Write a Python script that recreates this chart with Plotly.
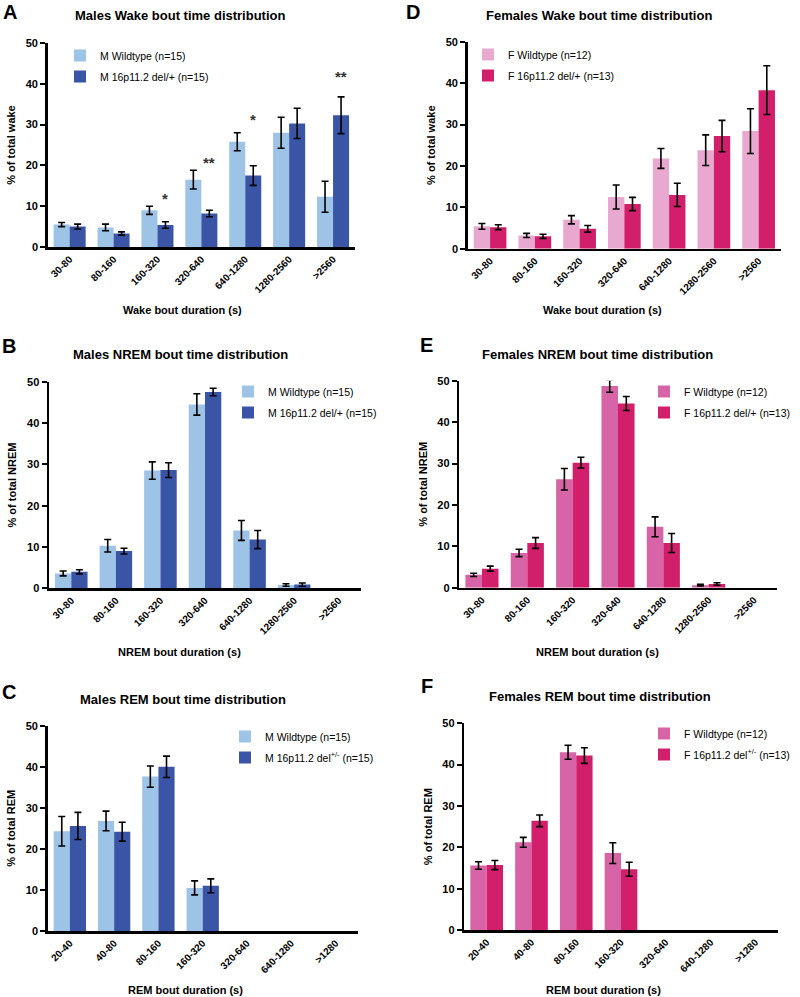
import plotly.graph_objects as go

W, H = 800, 997

# ---------------- data ----------------
cats_long = ["30-80", "80-160", "160-320", "320-640", "640-1280", "1280-2560", ">2560"]
cats_rem = ["20-40", "40-80", "80-160", "160-320", "320-640", "640-1280", ">1280"]

# A: Males wake
a_wt = [5.5, 4.8, 9.0, 16.5, 25.8, 28.0, 12.3]
a_wt_err = [0.5, 0.8, 1.0, 2.3, 2.2, 3.8, 3.8]
a_ko = [5.0, 3.3, 5.4, 8.2, 17.5, 30.3, 32.3]
a_ko_err = [0.6, 0.4, 0.8, 0.8, 2.4, 3.7, 4.5]
a_star_cats = ["160-320", "320-640", "640-1280", ">2560"]
a_star_text = ["*", "**", "*", "**"]
a_star_y = [12.0, 20.8, 31.3, 41.8]

# B: Males NREM (no bouts in the last bin)
b_wt = [3.6, 10.3, 28.5, 44.5, 14.0, 0.8, None]
b_wt_err = [0.6, 1.5, 2.1, 2.6, 2.4, 0.3, None]
b_ko = [4.0, 9.0, 28.6, 47.5, 11.8, 0.9, None]
b_ko_err = [0.5, 0.7, 1.8, 0.9, 2.2, 0.4, None]

# C: Males REM
c_wt = [24.3, 26.8, 37.6, 10.5, None, None, None]
c_wt_err = [3.6, 2.4, 2.6, 1.7, None, None, None]
c_ko = [25.6, 24.2, 40.0, 11.0, None, None, None]
c_ko_err = [3.3, 2.3, 2.6, 1.7, None, None, None]

# D: Females wake
d_wt = [5.4, 3.2, 7.0, 12.5, 21.8, 23.8, 28.4]
d_wt_err = [0.7, 0.5, 1.0, 2.9, 2.4, 3.7, 5.4]
d_ko = [5.2, 3.0, 4.8, 10.8, 13.0, 27.2, 38.3]
d_ko_err = [0.6, 0.5, 0.8, 1.6, 2.8, 3.8, 5.9]

# E: Females NREM
e_wt = [3.1, 8.4, 26.2, 48.7, 14.7, 0.6, None]
e_wt_err = [0.4, 0.9, 2.6, 1.5, 2.4, 0.2, None]
e_ko = [4.6, 10.8, 30.2, 44.5, 10.8, 0.9, None]
e_ko_err = [0.6, 1.3, 1.3, 1.7, 2.3, 0.3, None]

# F: Females REM
f_wt = [15.6, 21.2, 43.0, 18.6, None, None, None]
f_wt_err = [0.9, 1.2, 1.7, 2.5, None, None, None]
f_ko = [15.7, 26.4, 42.2, 14.7, None, None, None]
f_ko_err = [1.1, 1.4, 1.9, 1.7, None, None, None]

# ---------------- styling ----------------
FONT = "Liberation Sans, Arial, Helvetica, sans-serif"
M_WT, M_KO = "#9dc3e7", "#3a54a6"
FD_WT, F_KO = "#e9a8cf", "#d11f6b"
FEF_WT = "#d664a7"

panels = [
    dict(ax=1, cats=cats_long, wt=a_wt, wte=a_wt_err, ko=a_ko, koe=a_ko_err, cw=M_WT, ck=M_KO,
         nw="M Wildtype (n=15)", nk="M 16p11.2 del/+ (n=15)",
         box=(47.7, 355, 43, 247), leg=(102, 56),
         title="Males Wake bout time distribution", tpos=(180, 15), letter="A", lpos=(10, 12),
         ytitle="% of total wake", xtitle="Wake bout duration (s)", xtpos=(182, 310)),
    dict(ax=2, cats=cats_long, wt=b_wt, wte=b_wt_err, ko=b_ko, koe=b_ko_err, cw=M_WT, ck=M_KO,
         nw="M Wildtype (n=15)", nk="M 16p11.2 del/+ (n=15)",
         box=(49, 361, 381.7, 588.3), leg=(270, 392),
         title="Males NREM bout time distribution", tpos=(180, 354), letter="B", lpos=(9, 346),
         ytitle="% of total NREM", xtitle="NREM bout duration (s)", xtpos=(179, 652)),
    dict(ax=3, cats=cats_rem, wt=c_wt, wte=c_wt_err, ko=c_ko, koe=c_ko_err, cw=M_WT, ck=M_KO,
         nw="M Wildtype (n=15)", nk="M 16p11.2 del<sup>+/-</sup> (n=15)",
         box=(47.7, 357.7, 725.7, 931), leg=(267, 737),
         title="Males REM bout time distribution", tpos=(183, 699), letter="C", lpos=(9, 692),
         ytitle="% of total REM", xtitle="REM bout duration (s)", xtpos=(185, 990)),
    dict(ax=4, cats=cats_long, wt=d_wt, wte=d_wt_err, ko=d_ko, koe=d_ko_err, cw=FD_WT, ck=F_KO,
         nw="F Wildtype (n=12)", nk="F 16p11.2 del/+ (n=13)",
         box=(467.7, 781, 41.7, 248.7), leg=(510, 55),
         title="Females Wake bout time distribution", tpos=(599, 15), letter="D", lpos=(413, 12),
         ytitle="% of total wake", xtitle="Wake bout duration (s)", xtpos=(602, 310)),
    dict(ax=5, cats=cats_long, wt=e_wt, wte=e_wt_err, ko=e_ko, koe=e_ko_err, cw=FEF_WT, ck=F_KO,
         nw="F Wildtype (n=12)", nk="F 16p11.2 del/+ (n=13)",
         box=(459.3, 776.7, 380.7, 587.7), leg=(686, 392),
         title="Females NREM bout time distribution", tpos=(597, 355), letter="E", lpos=(426, 345),
         ytitle="% of total NREM", xtitle="NREM bout duration (s)", xtpos=(597, 652)),
    dict(ax=6, cats=cats_rem, wt=f_wt, wte=f_wt_err, ko=f_ko, koe=f_ko_err, cw=FEF_WT, ck=F_KO,
         nw="F Wildtype (n=12)", nk="F 16p11.2 del<sup>+/-</sup> (n=13)",
         box=(464.3, 777.7, 723.3, 930), leg=(686, 734),
         title="Females REM bout time distribution", tpos=(600, 696), letter="F", lpos=(427, 686),
         ytitle="% of total REM", xtitle="REM bout duration (s)", xtpos=(603, 990)),
]

fig = go.Figure()
layout = dict(
    width=W, height=H, margin=dict(l=0, r=0, t=0, b=0, autoexpand=False),
    paper_bgcolor="white", plot_bgcolor="white",
    barmode="group", bargap=0.27, bargroupgap=0.0,
    font=dict(family=FONT, color="black"),
    annotations=[],
)

for p in panels:
    i = p["ax"]
    sx = "" if i == 1 else str(i)
    legname = "legend" if i == 1 else f"legend{i}"
    eb = dict(type="data", thickness=1.6, width=3.5, color="black")
    fig.add_trace(go.Bar(x=p["cats"], y=p["wt"], name=p["nw"], marker=dict(color=p["cw"], line=dict(width=0)),
                         error_y=dict(array=p["wte"], **eb), xaxis="x" + sx, yaxis="y" + sx,
                         legend=legname, legendgroup=f"wt{i}", offsetgroup="wt"))
    fig.add_trace(go.Bar(x=p["cats"], y=p["ko"], name=p["nk"], marker=dict(color=p["ck"], line=dict(width=0)),
                         error_y=dict(array=p["koe"], **eb), xaxis="x" + sx, yaxis="y" + sx,
                         legend=legname, legendgroup=f"ko{i}", offsetgroup="ko"))
    x0, x1, yt, yb = p["box"]
    layout["xaxis" + sx] = dict(
        domain=[x0 / W, x1 / W], anchor="y" + sx, type="category", range=[-0.5, 6.5],
        categoryorder="array", categoryarray=p["cats"],
        showline=True, linewidth=2.5, linecolor="black", ticks="", showgrid=False, zeroline=False,
        tickangle=-45, tickfont=dict(family=FONT, size=10, color="black", weight="bold"),
        fixedrange=True, automargin=False,
    )
    layout["yaxis" + sx] = dict(
        domain=[1 - yb / H, 1 - yt / H], anchor="x" + sx, range=[0, 50], tickvals=[0, 10, 20, 30, 40, 50],
        showline=True, linewidth=2.5, linecolor="black", ticks="outside", ticklen=5, tickwidth=2,
        tickcolor="black", showgrid=False, zeroline=False,
        tickfont=dict(family=FONT, size=11, color="black", weight="bold"),
        title=dict(text=p["ytitle"], font=dict(family=FONT, size=11, color="black", weight="bold"), standoff=8),
        fixedrange=True, automargin=False,
    )
    lx, ly = p["leg"]
    layout[legname] = dict(
        x=(lx - 42) / W, y=1 - (ly - 15) / H, xanchor="left", yanchor="top",
        bgcolor="rgba(0,0,0,0)", font=dict(family=FONT, size=10.5, color="black"),
        itemwidth=30, tracegroupgap=2, traceorder="grouped", borderwidth=0,
    )
    tx, ty = p["tpos"]
    layout["annotations"].append(dict(text=p["title"], x=tx / W, y=1 - ty / H, xref="paper", yref="paper",
                                      showarrow=False, xanchor="center", yanchor="middle",
                                      font=dict(family=FONT, size=13, color="black", weight="bold")))
    ltx, lty = p["lpos"]
    layout["annotations"].append(dict(text=p["letter"], x=ltx / W, y=1 - lty / H, xref="paper", yref="paper",
                                      showarrow=False, xanchor="center", yanchor="middle",
                                      font=dict(family=FONT, size=20, color="black", weight="bold")))
    xtx, xty = p["xtpos"]
    layout["annotations"].append(dict(text=p["xtitle"], x=xtx / W, y=1 - xty / H, xref="paper", yref="paper",
                                      showarrow=False, xanchor="center", yanchor="middle",
                                      font=dict(family=FONT, size=11, color="black", weight="bold")))

# significance stars (panel A, above mutant bars)
for c, t, yv in zip(a_star_cats, a_star_text, a_star_y):
    layout["annotations"].append(dict(text=t, x=c, y=yv, xref="x", yref="y", showarrow=False,
                                      xshift=8, yanchor="middle",
                                      font=dict(family=FONT, size=15, color="#333333", weight="bold")))

fig.update_layout(**layout)
fig.write_html("out.html", config={"displayModeBar": False, "staticPlot": True},
               post_script="document.body.style.margin='0';document.body.style.padding='0';"
                           "document.documentElement.style.overflow='hidden';")
